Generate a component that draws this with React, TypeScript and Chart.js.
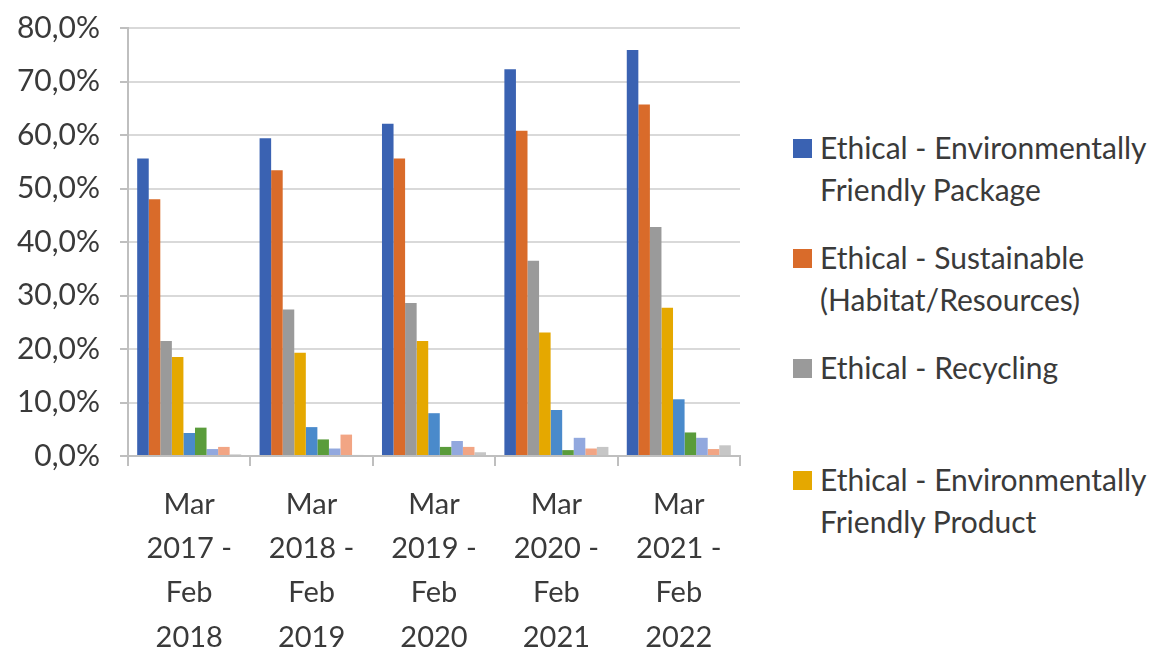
import React, { useEffect, useRef } from "react";
import { Chart, registerables } from "chart.js";

Chart.register(...registerables);

const categories: string[][] = [
  ["Mar", "2017 -", "Feb", "2018"],
  ["Mar", "2018 -", "Feb", "2019"],
  ["Mar", "2019 -", "Feb", "2020"],
  ["Mar", "2020 -", "Feb", "2021"],
  ["Mar", "2021 -", "Feb", "2022"],
];

const seriesNames: string[] = [
  "Ethical - Environmentally Friendly Package",
  "Ethical - Sustainable (Habitat/Resources)",
  "Ethical - Recycling",
  "Ethical - Environmentally Friendly Product",
  "Series 5",
  "Series 6",
  "Series 7",
  "Series 8",
  "Series 9",
];

const legendLines: string[][] = [
  ["Ethical - Environmentally", "Friendly Package"],
  ["Ethical - Sustainable", "(Habitat/Resources)"],
  ["Ethical - Recycling"],
  ["Ethical - Environmentally", "Friendly Product"],
];

const s1: number[] = [55.6, 59.4, 62.1, 72.3, 75.9];
const s2: number[] = [48.0, 53.4, 55.6, 60.8, 65.7];
const s3: number[] = [21.5, 27.4, 28.6, 36.5, 42.8];
const s4: number[] = [18.5, 19.3, 21.5, 23.1, 27.7];
const s5: number[] = [4.3, 5.4, 8.0, 8.6, 10.6];
const s6: number[] = [5.3, 3.1, 1.7, 1.1, 4.4];
const s7: number[] = [1.3, 1.4, 2.8, 3.4, 3.4];
const s8: number[] = [1.7, 4.0, 1.7, 1.4, 1.3];
const s9: number[] = [0.3, 0.2, 0.7, 1.7, 2.0];

const colors: string[] = [
  "#3A62B2",
  "#D96B2A",
  "#9A9A9A",
  "#E5A800",
  "#4A8ACB",
  "#5A9C3B",
  "#92A8DE",
  "#F2A584",
  "#C6C6C6",
];

const FONT = "Lato, 'Open Sans', sans-serif";

export default function App() {
  const ref = useRef<HTMLCanvasElement | null>(null);

  useEffect(() => {
    if (!ref.current) return;
    const all = [s1, s2, s3, s4, s5, s6, s7, s8, s9];
    const chart = new Chart(ref.current, {
      type: "bar",
      data: {
        labels: categories,
        datasets: all.map((d, i) => ({
          label: seriesNames[i],
          data: d,
          backgroundColor: colors[i],
          borderWidth: 0,
          categoryPercentage: 0.85,
          barPercentage: 1,
        })),
      },
      options: {
        animation: false,
        responsive: false,
        maintainAspectRatio: false,
        layout: { padding: { top: 28, right: 20, left: 0, bottom: 0 } },
        plugins: { legend: { display: false }, tooltip: { enabled: false } },
        scales: {
          x: {
            grid: {
              display: true,
              drawOnChartArea: false,
              drawTicks: true,
              tickLength: 10,
              color: "#BFBFBF",
              lineWidth: 2,
              offset: true,
            },
            border: { display: true, color: "#BFBFBF", width: 2 },
            ticks: {
              color: "#3A3A3A",
              font: { family: FONT, size: 29, lineHeight: 1.53 },
              padding: 16,
              maxRotation: 0,
              autoSkip: false,
            },
            afterFit: (scale: any) => {
              scale.height = 196;
              scale.paddingLeft = 0;
              scale.paddingRight = 0;
            },
          },
          y: {
            min: 0,
            max: 80,
            ticks: {
              stepSize: 10,
              color: "#3A3A3A",
              font: { family: FONT, size: 30 },
              padding: 20,
              callback: (v: any) => Number(v).toFixed(1).replace(".", ",") + "%",
            },
            grid: {
              color: "#D9D9D9",
              lineWidth: 2,
              tickLength: 8,
              tickColor: "#BFBFBF",
            },
            border: { display: true, color: "#BFBFBF", width: 2 },
            afterFit: (scale: any) => {
              scale.width = 128;
              scale.paddingTop = 0;
              scale.paddingBottom = 0;
            },
          },
        },
      },
    });
    return () => chart.destroy();
  }, []);

  const tops = [126, 236, 346, 458];

  return (
    <div
      style={{
        position: "fixed",
        left: 0,
        top: 0,
        width: 1173,
        height: 652,
        background: "#ffffff",
        overflow: "hidden",
      }}
    >
      <canvas
        ref={ref}
        width={760}
        height={652}
        style={{ position: "absolute", left: 0, top: 0, width: 760, height: 652 }}
      />
      {legendLines.map((lines, i) => (
        <div
          key={i}
          style={{
            position: "absolute",
            left: 793,
            top: tops[i],
            fontFamily: FONT,
            fontSize: 30,
            lineHeight: "42px",
            color: "#3A3A3A",
            whiteSpace: "nowrap",
          }}
        >
          <span
            style={{
              position: "absolute",
              left: 0,
              top: 13,
              width: 19,
              height: 19,
              background: colors[i],
            }}
          />
          <div style={{ marginLeft: 27 }}>
            {lines.map((l, j) => (
              <div key={j}>{l}</div>
            ))}
          </div>
        </div>
      ))}
    </div>
  );
}
